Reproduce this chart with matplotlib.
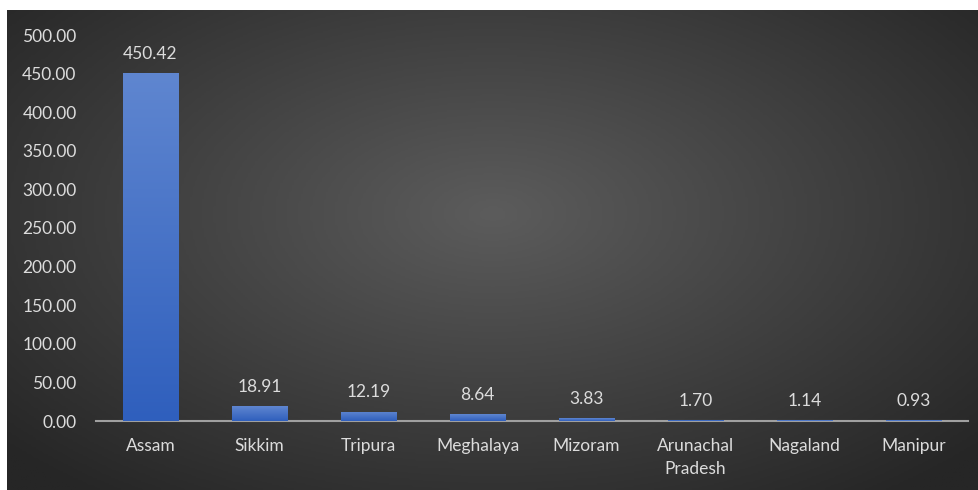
import matplotlib.pyplot as plt
import numpy as np
from matplotlib.colors import LinearSegmentedColormap

states = ["Assam", "Sikkim", "Tripura", "Meghalaya", "Mizoram",
          "Arunachal\nPradesh", "Nagaland", "Manipur"]
values = [450.42, 18.91, 12.19, 8.64, 3.83, 1.70, 1.14, 0.93]
yticks = [0, 50, 100, 150, 200, 250, 300, 350, 400, 450, 500]

plt.rcParams['font.family'] = ['Lato', 'DejaVu Sans']
txt = "#dcdcdc"

fig = plt.figure(figsize=(9.79, 4.9), dpi=100)

# dark radial backdrop
bg = fig.add_axes([7 / 979, 0, 972 / 979, 480 / 490])
gx, gy = np.meshgrid(np.linspace(-1, 1, 400), np.linspace(-1, 1, 200))
r = np.sqrt(((gx - 0.0) / 1.0) ** 2 + ((gy + 0.15) / 1.1) ** 2)
r = np.clip(r / 1.35, 0, 1)
bg_cmap = LinearSegmentedColormap.from_list("bg", ["#5c5c5c", "#262626"])
bg.imshow(r, cmap=bg_cmap, aspect="auto", extent=[0, 1, 0, 1], vmin=0, vmax=1)
bg.set_axis_off()

ax = fig.add_axes([96 / 979, 1 - 421 / 490, 872 / 979, (421 - 35) / 490])
ax.patch.set_alpha(0)

x = np.arange(len(states))
bars = ax.bar(x, values, width=0.51, color="#4472c4", zorder=2)

bar_cmap = LinearSegmentedColormap.from_list("bar", ["#2f5fbd", "#5f86d0"])
grad = np.linspace(0, 1, 256).reshape(-1, 1)
for b in bars:
    x0, y0 = b.get_x(), b.get_y()
    w, h = b.get_width(), b.get_height()
    im = ax.imshow(grad, cmap=bar_cmap, aspect="auto", origin="lower",
                   extent=[x0, x0 + w, y0, y0 + h], zorder=3)
    im.set_clip_path(b)

for xi, v in zip(x, values):
    ax.annotate(f"{v:.2f}", (xi, v), xytext=(0, 8), textcoords="offset points",
                ha="center", va="bottom", color=txt, fontsize=12.5)

ax.set_xlim(-0.5, len(states) - 0.5)
ax.set_ylim(0, 500)
ax.set_yticks(yticks)
ax.set_yticklabels([f"{t:.2f}" for t in yticks])
ax.set_xticks(x)
ax.set_xticklabels(states, linespacing=1.6)
ax.tick_params(axis="both", length=0, colors=txt, labelsize=12.5)
ax.tick_params(axis="x", pad=12)
ax.tick_params(axis="y", pad=14)
for s in ["top", "right", "left"]:
    ax.spines[s].set_visible(False)
ax.spines["bottom"].set_color("#a0a0a0")
ax.spines["bottom"].set_linewidth(1.5)
ax.spines["bottom"].set_zorder(1)

fig.savefig("out.png", dpi=100)
